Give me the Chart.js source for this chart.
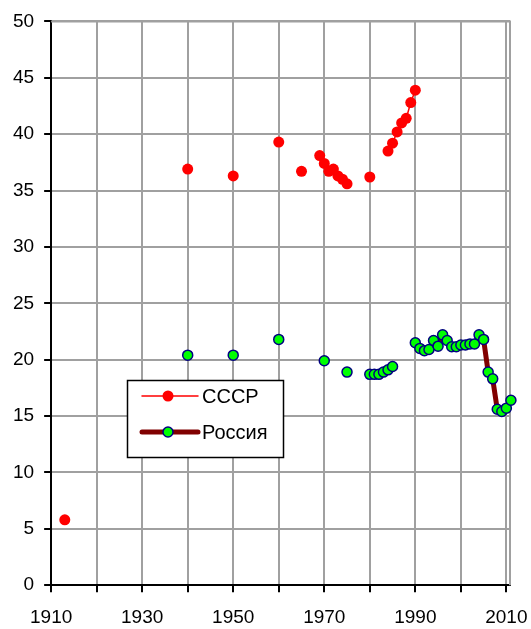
<!DOCTYPE html>
<html>
<head>
<meta charset="utf-8">
<script src="https://cdn.jsdelivr.net/npm/chart.js@4/dist/chart.umd.min.js"></script>
<style>
  html, body { margin: 0; padding: 0; background: #ffffff; }
  #wrap { width: 531px; height: 629px; position: relative; }
</style>
</head>
<body>
<div id="wrap"><canvas id="c" width="531" height="629"></canvas></div>
<script>
// ---- data ----
const ussrLabel = 'СССР';
const russiaLabel = 'Россия';
const ussrYears = [1913, 1940, 1950, 1960, 1965, 1969, 1970, 1971, 1972, 1973, 1974, 1975, 1980, 1984, 1985, 1986, 1987, 1988, 1989, 1990];
const ussrValues = [5.8, 36.9, 36.3, 39.3, 36.7, 38.1, 37.4, 36.7, 36.9, 36.3, 36.0, 35.6, 36.2, 38.5, 39.2, 40.2, 41.0, 41.4, 42.8, 43.9];
const russiaYears = [1940, 1950, 1960, 1970, 1975, 1980, 1981, 1982, 1983, 1984, 1985,
  1990, 1991, 1992, 1993, 1994, 1995, 1996, 1997, 1998, 1999, 2000, 2001, 2002, 2003, 2004, 2005,
  2006, 2007, 2008, 2009, 2010, 2011];
const russiaValues = [20.4, 20.4, 21.8, 19.9, 18.9, 18.7, 18.7, 18.7, 18.9, 19.1, 19.4,
  21.5, 21.0, 20.8, 20.9, 21.7, 21.2, 22.2, 21.7, 21.15, 21.15, 21.3, 21.3, 21.4, 21.4, 22.2, 21.8,
  18.9, 18.3, 15.6, 15.4, 15.7, 16.4];
const xTicks = [1910, 1920, 1930, 1940, 1950, 1960, 1970, 1980, 1990, 2000, 2010];
const xTickLabels = ['1910', '1930', '1950', '1970', '1990', '2010'];
const yTicks = [0, 5, 10, 15, 20, 25, 30, 35, 40, 45, 50];

// build points, inserting gaps where years are not consecutive (lines only join adjacent years)
function toPoints(years, values) {
  const pts = [];
  for (let i = 0; i < years.length; i++) {
    if (i > 0 && years[i] - years[i - 1] > 1) pts.push({ x: years[i - 1] + 1, y: null });
    pts.push({ x: years[i], y: values[i] });
  }
  return pts;
}

const FONT = '"Liberation Sans", Arial, sans-serif';
const GRID = '#a0a0a0';

const legendBox = {
  id: 'legendBox',
  afterDatasetsDraw(chart) {
    const ctx = chart.ctx;
    const ds = chart.data.datasets;
    ctx.save();
    const bx = 127.5, by = 380.5, bw = 156, bh = 77;
    ctx.fillStyle = '#ffffff';
    ctx.fillRect(bx, by, bw, bh);
    ctx.strokeStyle = '#000000';
    ctx.lineWidth = 1.5;
    ctx.strokeRect(bx, by, bw, bh);
    const rows = [396, 432];
    rows.forEach((ry, i) => {
      const d = ds[i];
      ctx.strokeStyle = d.borderColor;
      ctx.lineWidth = d.borderWidth;
      ctx.lineCap = 'round';
      ctx.beginPath();
      ctx.moveTo(142, ry);
      ctx.lineTo(198, ry);
      ctx.stroke();
      ctx.beginPath();
      ctx.arc(168, ry, d.pointRadius, 0, Math.PI * 2);
      ctx.fillStyle = d.pointBackgroundColor;
      ctx.fill();
      if (d.pointBorderWidth > 0) {
        ctx.lineWidth = d.pointBorderWidth;
        ctx.strokeStyle = d.pointBorderColor;
        ctx.stroke();
      }
      ctx.fillStyle = '#000000';
      ctx.font = '20px ' + FONT;
      ctx.textBaseline = 'middle';
      ctx.textAlign = 'left';
      ctx.fillText(d.label, 202, ry + 1);
    });
    ctx.restore();
  }
};

const plotBorder = {
  id: 'plotBorder',
  beforeDatasetsDraw(chart) {
    const { ctx, chartArea } = chart;
    ctx.save();
    ctx.strokeStyle = GRID;
    ctx.lineWidth = 2;
    ctx.beginPath();
    ctx.moveTo(chartArea.left, chartArea.top);
    ctx.lineTo(chartArea.right, chartArea.top);
    ctx.lineTo(chartArea.right, chartArea.bottom);
    ctx.stroke();
    ctx.restore();
  }
};

new Chart(document.getElementById('c'), {
  type: 'line',
  data: {
    datasets: [
      {
        label: ussrLabel,
        data: toPoints(ussrYears, ussrValues),
        borderColor: '#ff0000',
        borderWidth: 1.5,
        pointRadius: 5.5,
        pointBackgroundColor: '#ff0000',
        pointBorderColor: '#ff0000',
        pointBorderWidth: 0,
        spanGaps: false,
        clip: false,
        order: 1
      },
      {
        label: russiaLabel,
        data: toPoints(russiaYears, russiaValues),
        borderColor: '#800000',
        borderWidth: 5,
        pointRadius: 5,
        pointBackgroundColor: '#00ff00',
        pointBorderColor: '#000080',
        pointBorderWidth: 1.5,
        spanGaps: false,
        clip: false,
        order: 2
      }
    ]
  },
  options: {
    responsive: false,
    animation: false,
    devicePixelRatio: 1,
    layout: { padding: { top: 21, right: 21, bottom: -14, left: 3 } },
    plugins: { legend: { display: false }, tooltip: { enabled: false } },
    scales: {
      x: {
        type: 'linear',
        min: 1910,
        max: 2010.8,
        afterBuildTicks: (s) => { s.ticks = xTicks.map(v => ({ value: v })); },
        afterFit: (s) => { s.paddingRight = 0; s.paddingLeft = 0; },
        ticks: {
          autoSkip: false,
          maxRotation: 0,
          padding: 14,
          color: '#000000',
          font: { family: FONT, size: 19 },
          callback: (v) => xTickLabels.includes(String(v)) ? String(v) : ''
        },
        grid: { color: GRID, lineWidth: 2, tickColor: '#000000', tickLength: 7, tickWidth: 2 },
        border: { color: '#000000', width: 2 }
      },
      y: {
        type: 'linear',
        min: 0,
        max: 50,
        afterBuildTicks: (s) => { s.ticks = yTicks.map(v => ({ value: v })); },
        ticks: {
          padding: 10,
          color: '#000000',
          font: { family: FONT, size: 19 },
          callback: (v) => String(v)
        },
        grid: { color: GRID, lineWidth: 2, tickColor: '#000000', tickLength: 7, tickWidth: 2 },
        border: { color: '#000000', width: 2 }
      }
    }
  },
  plugins: [plotBorder, legendBox]
});
</script>
</body>
</html>
